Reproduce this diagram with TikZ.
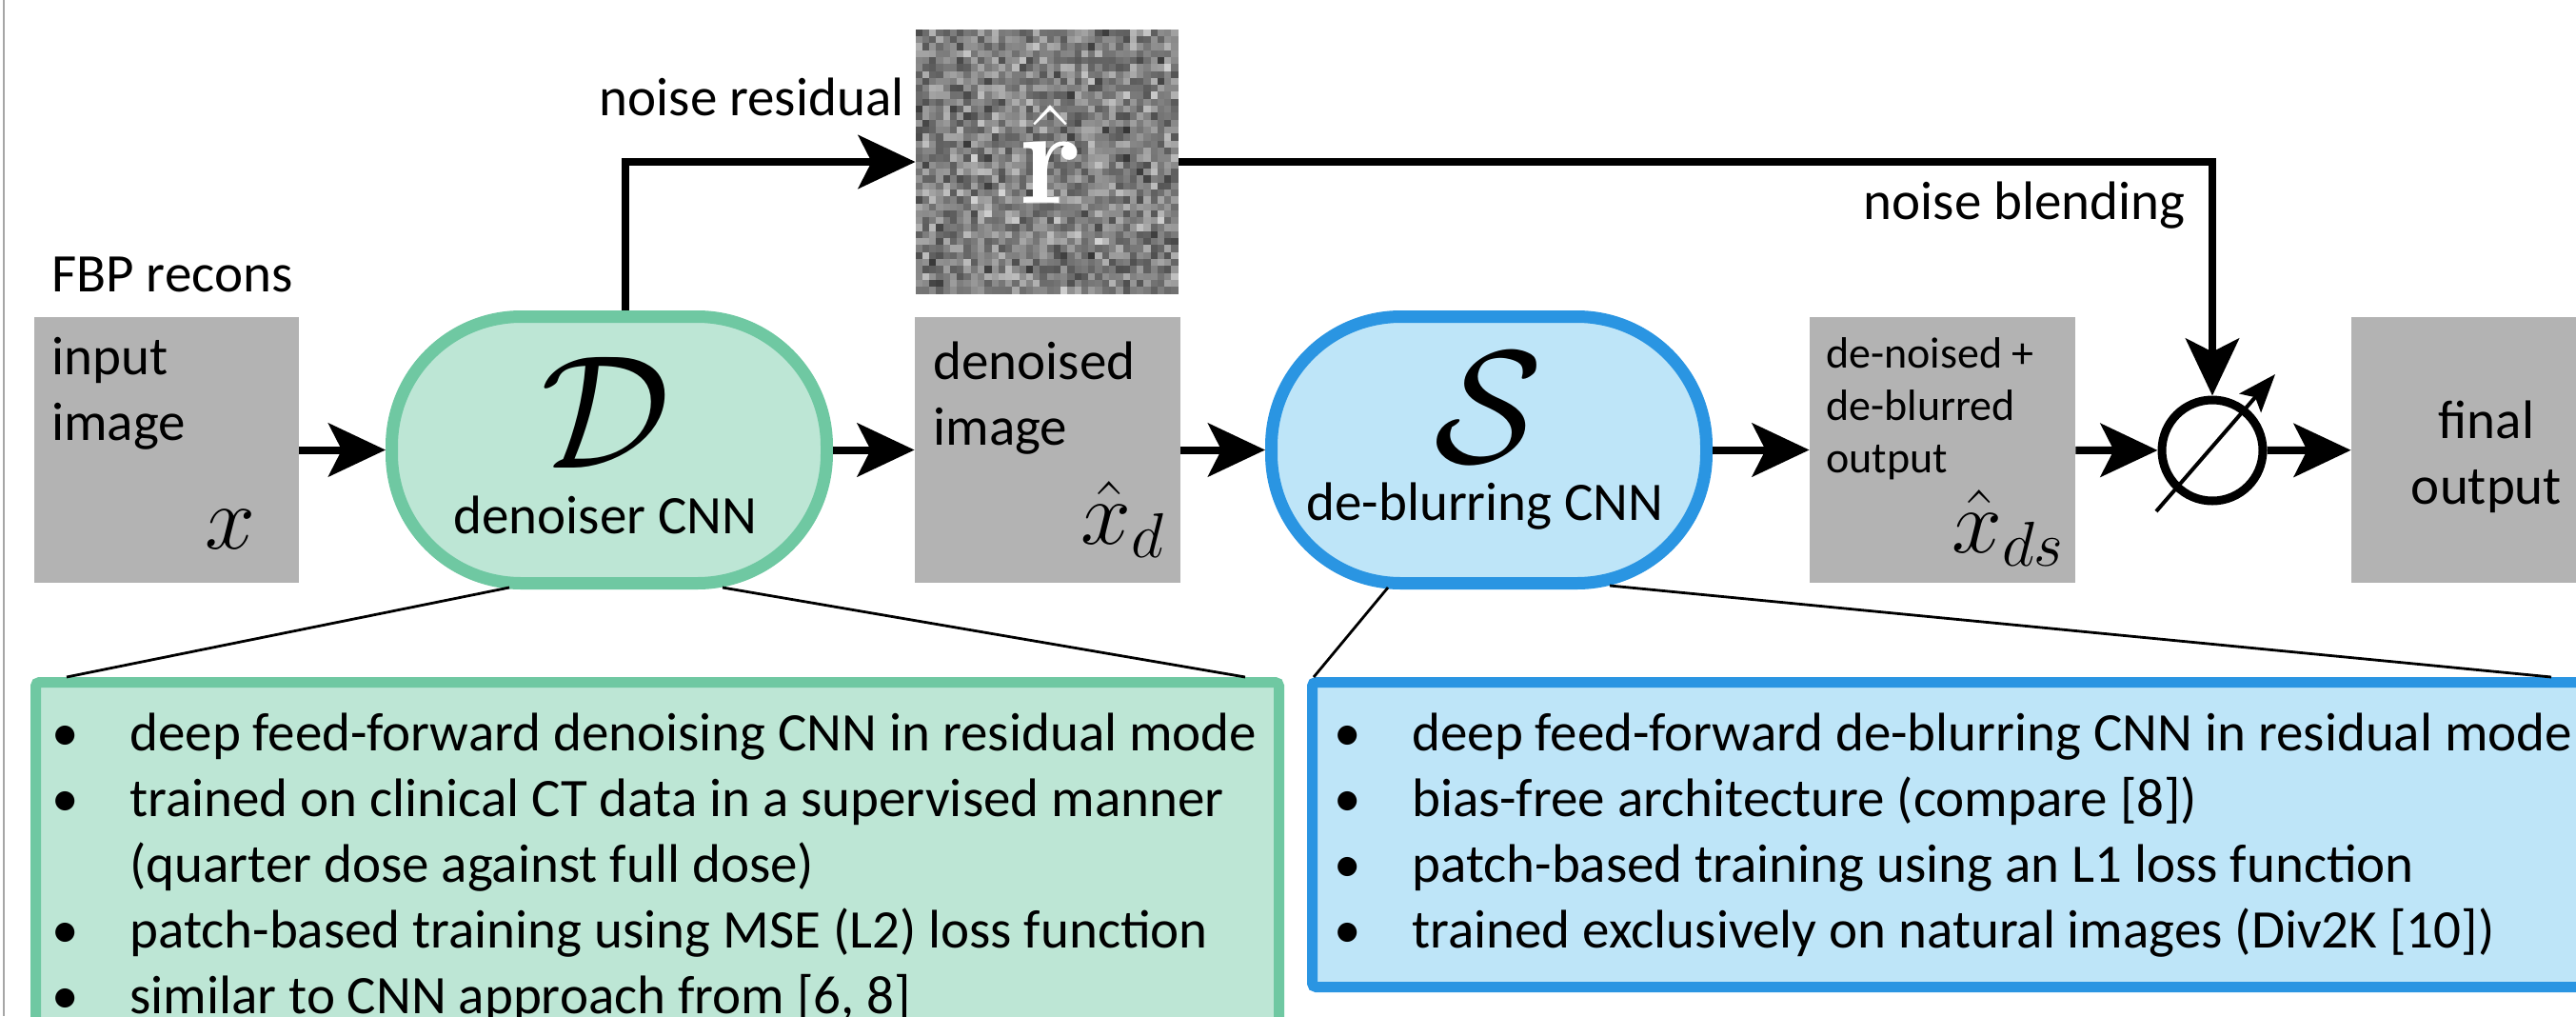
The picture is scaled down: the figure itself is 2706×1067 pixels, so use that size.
\RequirePackage{fix-cm}
\documentclass[tikz,border=0pt]{standalone}
\usepackage[no-math]{fontspec}
\setmainfont{Carlito}
\usetikzlibrary{arrows.meta}

\definecolor{boxgray}{HTML}{B3B3B3}
\definecolor{dgreen}{HTML}{6FC8A2}
\definecolor{dgreenfill}{HTML}{BDE6D5}
\definecolor{sblue}{HTML}{2A95E2}
\definecolor{sbluefill}{HTML}{BEE5F8}
\definecolor{framegray}{HTML}{A6A6A6}

\newcommand{\infobullet}{\strut\makebox[24pt]{\textbullet}\hspace{22pt}}
\newcommand{\infoindent}{\strut\hspace*{46pt}}

\begin{document}
\begin{tikzpicture}[x=0.5pt,y=-0.5pt,
	lbl/.style={font={\fontsize{28.5}{34.5}\selectfont},inner sep=0pt},
	smalllbl/.style={font={\fontsize{23}{27.5}\selectfont},inner sep=0pt},
	mathlbl/.style={font={\fontsize{47.5}{50}\selectfont},inner sep=0pt},
	imgbox/.style={fill=boxgray,minimum width=139.5pt,minimum height=139.5pt,inner sep=0pt},
	cnn/.style={line width=6.5pt,minimum width=228.5pt,minimum height=140pt,inner sep=0pt},
	infobox/.style={draw,line width=5.5pt,rounded corners=2pt,inner sep=0pt},
	flow/.style={-{Stealth[length=30pt,width=28pt,inset=7pt]},line width=4pt},
	lead/.style={line width=1.4pt}]
	\useasboundingbox[fill=white] (0,0) rectangle (2706,1067);
	\draw[framegray,line width=1pt] (4,0) -- (4,1067); % left edge

	% image boxes
	\node[imgbox,minimum width=139pt] (in) at (175,472.5) {};
	\node[imgbox] (dn) at (1100.5,472.5) {};
	\node[imgbox] (db) at (2040.5,472.5) {};
	\node[imgbox] (fin) at (2609.5,472.5) {};

	% networks (pill outlines)
	\node[cnn] (dnn) at (640,472.5) {};
	\draw[dgreen,fill=dgreenfill,line width=6.5pt] (dnn.center) ++(-92.5,-140) -- ++(185,0)
		arc[start angle=90,end angle=0,radius=68pt] -- ++(0,8)
		arc[start angle=0,end angle=-90,radius=68pt] -- ++(-185,0)
		arc[start angle=-90,end angle=-180,radius=68pt] -- ++(0,-8)
		arc[start angle=180,end angle=90,radius=68pt] -- cycle;
	\node[cnn] (snn) at (1564,472.5) {};
	\draw[sblue,fill=sbluefill,line width=6.5pt] (snn.center) ++(-92.5,-140) -- ++(185,0)
		arc[start angle=90,end angle=0,radius=68pt] -- ++(0,8)
		arc[start angle=0,end angle=-90,radius=68pt] -- ++(-185,0)
		arc[start angle=-90,end angle=-180,radius=68pt] -- ++(0,-8)
		arc[start angle=180,end angle=90,radius=68pt] -- cycle;
	\node[draw,circle,line width=4.5pt,minimum size=53pt,inner sep=0pt] (blend) at (2324,473) {};

	% noise residual image
	\node[minimum width=138pt,minimum height=139pt,inner sep=0pt] (res) at (1100,170) {};
	\pgfmathsetseed{42}
	\begin{scope}[shift={(res.north west)}]
		\foreach \i in {0,...,37}
		\foreach \j in {0,...,37}{
			\pgfmathsetmacro\gv{100*(0.85-0.235*(rnd+rnd+rnd))}
			\fill[black!\gv] (\i*7.263,\j*7.316) rectangle ++(7.4,7.45);
		}
	\end{scope}
	\node[font={\fontsize{72}{76}\selectfont},text=white,inner sep=0pt,anchor=base] (rhat) at (1104,213) {$\hat{\mathbf{r}}$};

	% texts
	\node[lbl,anchor=base west] (fbp) at (54,306) {FBP recons};
	\node[lbl,anchor=base east] (resname) at (950,121) {noise residual};
	\node[lbl,anchor=base east] (blendname) at (2296,230) {noise blending};
	\node[lbl,align=left,anchor=north west] (inlbl) at (54,344.7) {\strut input\\image};
	\node[lbl,align=left,anchor=north west] (dnlbl) at (980,349.7) {\strut denoised\\image};
	\node[smalllbl,align=left,anchor=north west] (dblbl) at (1918,347.5) {\strut de-noised +\\de-blurred\\output};
	\node[lbl,align=center,anchor=north] (finlbl) at (2612,411.7) {\strut final\\output};
	\node[mathlbl,anchor=base] (xin) at (242,576) {$x$};
	\node[mathlbl,anchor=base east] (xd) at (1224,571) {$\hat{x}_d$};
	\node[mathlbl,anchor=base east] (xds) at (2169,580) {$\hat{x}_{ds}$};
	\node[font={\fontsize{85}{90}\selectfont},inner sep=0pt,anchor=base] (dsym) at (636,491) {$\mathcal{D}$};
	\node[font={\fontsize{84}{90}\selectfont},inner sep=0pt,anchor=base] (ssym) at (1564,485) {$\mathcal{S}$};
	\node[lbl,anchor=base] (dname) at (636,560) {denoiser CNN};
	\node[lbl,anchor=base] (sname) at (1560,546) {de-blurring CNN};

	% main flow
	\draw[flow] (in) -- (dnn);
	\draw[flow] (dnn) -- (dn);
	\draw[flow] (dn) -- (snn);
	\draw[flow] (snn) -- (db);
	\draw[flow] (db) -- (blend);
	\draw[flow] (blend) -- (fin);
	\draw[flow] ([xshift=8.5pt]dnn.north) |- (res.west);
	\draw[flow] (res.east) -| (blend.north);
	\path (blend.center) ++(-59,64) coordinate (knob0) (blend.center) ++(66,-80) coordinate (knob1);
	\draw[-{Stealth[length=20pt,width=15pt,inset=4pt]},line width=2pt] (knob0) -- (knob1); % blending knob

	% info boxes
	\node[infobox,draw=dgreen,fill=dgreenfill,minimum width=653pt,minimum height=210pt] (gbox) at (690.5,926.5) {};
	\node[infobox,draw=sblue,fill=sbluefill,minimum width=690.75pt,minimum height=160pt] (sbox) at (2069.25,876.5) {};
	\node[lbl,align=left,anchor=north west] (glist) at (44,739.7) {%
		\infobullet deep feed-forward denoising CNN in residual mode\\
		\infobullet trained on clinical CT data in a supervised manner\\
		\infoindent (quarter dose against full dose)\\
		\infobullet patch-based training using MSE (L2) loss function\\
		\infobullet similar to CNN approach from [6, 8]};
	\node[lbl,align=left,anchor=north west] (slist) at (1391,739.7) {%
		\infobullet deep feed-forward de-blurring CNN in residual mode\\
		\infobullet bias-free architecture (compare [8])\\
		\infobullet patch-based training using an L1 loss function\\
		\infobullet trained exclusively on natural images (Div2K [10])};
	\draw[lead] ([xshift=-52.5pt,yshift=1pt]dnn.south) -- ([xshift=19pt]gbox.north west);
	\draw[lead] ([xshift=59.5pt,yshift=1pt]dnn.south) -- ([xshift=-20.5pt]gbox.north east);
	\draw[lead] ([xshift=-53pt,yshift=1pt]snn.south) -- ([xshift=3.5pt]sbox.north west);
	\draw[lead] ([xshift=63.5pt,yshift=2pt]snn.south) -- ([xshift=653.5pt]sbox.north west);
\end{tikzpicture}
\end{document}
